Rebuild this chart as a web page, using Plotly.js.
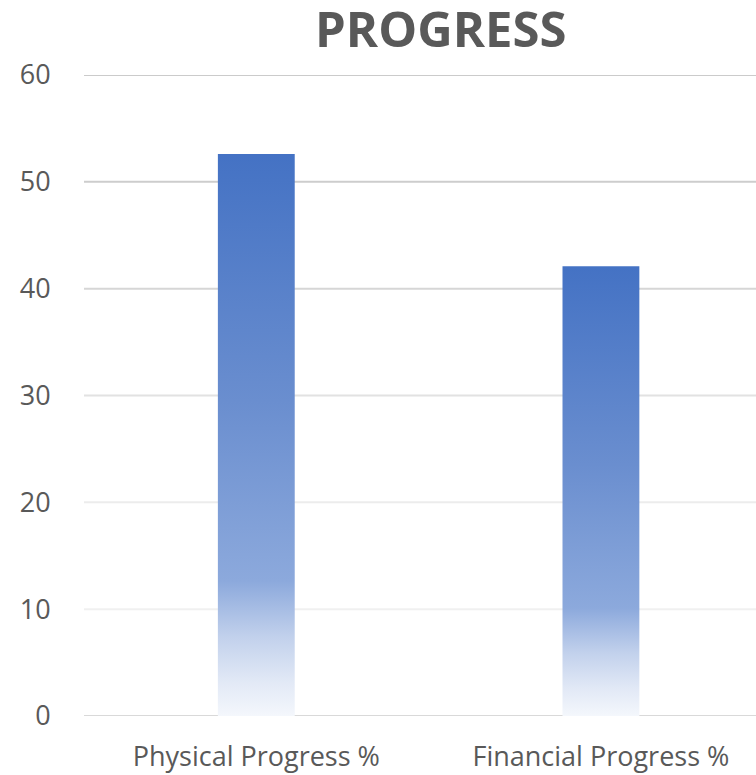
<!DOCTYPE html>
<html>
<head>
<meta charset="utf-8">
<script src="https://cdn.plot.ly/plotly-3.0.1.min.js"></script>
<style>
html,body{margin:0;padding:0;background:#fff;}
#chart{width:756px;height:775px;}
</style>
</head>
<body>
<div id="chart"></div>
<script>
var categories = ["Physical Progress %", "Financial Progress %"];
var values = [52.6, 42.1];
var yTicks = [0, 10, 20, 30, 40, 50, 60];
var gridColors = ["#d9d9d9", "#f0f0f0", "#ececec", "#e2e2e2", "#d6d6d6", "#cdcdcd", "#cbcbcb"];

var trace = {
  type: "bar",
  x: categories,
  y: values,
  width: 0.223,
  marker: {color: "#4472C4", line: {width: 0}},
  hoverinfo: "none"
};

var shapes = yTicks.map(function(v, i){
  return {type: "line", xref: "paper", x0: 0, x1: 1, yref: "y", y0: v, y1: v,
          line: {color: gridColors[i], width: 2}, layer: "below"};
});

var layout = {
  width: 756, height: 775,
  margin: {l: 84, r: 0, t: 75, b: 59, pad: 0},
  paper_bgcolor: "#fff", plot_bgcolor: "#fff",
  showlegend: false,
  title: {text: "<b>PROGRESS</b>", font: {family: "Open Sans", size: 49, color: "#595959"},
          xref: "container", x: 0.583, xanchor: "center", yref: "container", y: 0.962, yanchor: "middle"},
  xaxis: {range: [-0.5, 1.45], showgrid: false, zeroline: false, showline: false,
          ticks: "outside", ticklen: 17, tickcolor: "rgba(0,0,0,0)",
          tickfont: {family: "Open Sans", size: 27, color: "#595959"}, fixedrange: true},
  yaxis: {range: [0, 60], tickvals: yTicks, ticktext: yTicks.map(String), showgrid: false, zeroline: false, showline: false,
          ticks: "outside", ticklen: 27, tickcolor: "rgba(0,0,0,0)",
          tickfont: {family: "Open Sans", size: 27, color: "#595959"}, fixedrange: true},
  shapes: shapes
};

Plotly.newPlot("chart", [trace], layout, {displayModeBar: false, staticPlot: true}).then(function(gd){
  var svg = gd.querySelector("svg.main-svg");
  var ns = "http://www.w3.org/2000/svg";
  var defs = svg.querySelector("defs");
  if (!defs) { defs = document.createElementNS(ns, "defs"); svg.insertBefore(defs, svg.firstChild); }
  var grad = document.createElementNS(ns, "linearGradient");
  grad.setAttribute("id", "barGrad");
  grad.setAttribute("x1", "0"); grad.setAttribute("y1", "0");
  grad.setAttribute("x2", "0"); grad.setAttribute("y2", "1");
  var stops = [[0, "#4472C4"], [0.44, "#6A8ECF"], [0.76, "#8CA9DC"], [0.86, "#C2D1EC"], [0.94, "#E2E9F6"], [1, "#F4F7FC"]];
  stops.forEach(function(s){
    var st = document.createElementNS(ns, "stop");
    st.setAttribute("offset", s[0]);
    st.setAttribute("stop-color", s[1]);
    grad.appendChild(st);
  });
  defs.appendChild(grad);
  gd.querySelectorAll(".bars .point path").forEach(function(p){
    p.style.fill = "url(#barGrad)";
  });
});
</script>
</body>
</html>
